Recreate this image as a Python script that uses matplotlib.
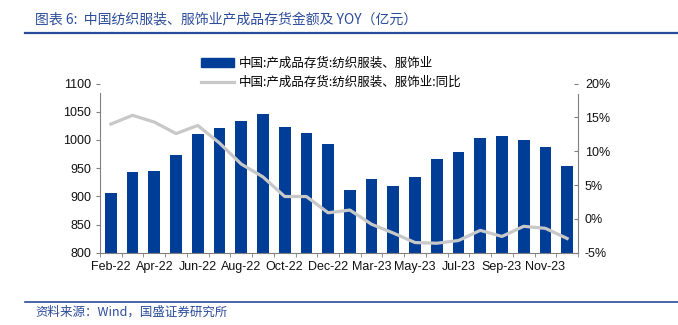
"""
中国纺织服装、服饰业产成品存货金额及 YOY
"""
import numpy as np
import matplotlib
matplotlib.use('Agg')
import matplotlib.pyplot as plt
from matplotlib.patches import Patch
from matplotlib.lines import Line2D
from matplotlib.ticker import FixedLocator

plt.rcParams['font.family'] = ['Liberation Sans', 'Noto Sans CJK SC']
plt.rcParams['axes.unicode_minus'] = False

CJK = ['Noto Sans CJK SC', 'DejaVu Sans']

# 数据
months = ['Feb-22', 'Mar-22', 'Apr-22', 'May-22', 'Jun-22', 'Jul-22', 'Aug-22',
          'Sep-22', 'Oct-22', 'Nov-22', 'Dec-22', 'Feb-23', 'Mar-23', 'Apr-23',
          'May-23', 'Jun-23', 'Jul-23', 'Aug-23', 'Sep-23', 'Oct-23', 'Nov-23',
          'Dec-23']
inventory = [906, 943, 945, 973, 1010, 1021, 1034, 1046, 1022, 1013, 993,
             912, 930, 919, 935, 966, 978, 1004, 1007, 999, 988, 953]
yoy = [14.0, 15.3, 14.3, 12.6, 13.8, 11.2, 8.1, 6.2, 3.3, 3.3, 0.9,
       1.3, -0.8, -2.1, -3.5, -3.6, -3.2, -1.7, -2.6, -1.1, -1.4, -2.9]

left_ticks = [800, 850, 900, 950, 1000, 1050, 1100]
right_ticks = [-5, 0, 5, 10, 15, 20]

bar_color = '#003d96'
line_color = '#c8c8c8'
title_color = '#2b4c9b'

fig = plt.figure(figsize=(6.78, 3.25), dpi=100)

# 标题和分隔线
fig.text(35 / 678, 1 - 19 / 325, '图表 6:  中国纺织服装、服饰业产成品存货金额及 YOY（亿元）',
         family=CJK, fontsize=10, color=title_color, va='center', ha='left')
fig.add_artist(Line2D([25 / 678, 1.0], [1 - 33 / 325] * 2, color=title_color, lw=1.6))
fig.add_artist(Line2D([25 / 678, 1.0], [1 - 302 / 325] * 2, color=title_color, lw=1.2))
fig.text(35 / 678, 1 - 312 / 325, '资料来源：Wind，国盛证券研究所',
         family=CJK, fontsize=9, color=title_color, va='center', ha='left')

ax = fig.add_axes([100 / 678, 1 - 252.7 / 325, 478 / 678, 169.2 / 325])
x = np.arange(len(months))
ax.bar(x, inventory, width=0.54, color=bar_color, zorder=2)
ax.set_xlim(-0.5, len(months) - 0.5)
ax.set_ylim(800, 1100)
ax.set_yticks(left_ticks)

# 每隔一个月显示标签
label_idx = list(range(0, len(months), 2))
ax.set_xticks(label_idx)
ax.set_xticklabels([months[i] for i in label_idx])
ax.tick_params(axis='x', length=0, labelsize=9, pad=6, labelcolor='#111111')
ax.xaxis.set_minor_locator(FixedLocator(np.arange(-0.5, len(months), 1)))
ax.tick_params(axis='x', which='minor', length=3, color='#808080', direction='out')
ax.tick_params(axis='y', labelsize=9, length=3, color='#808080', direction='out',
               labelcolor='#111111')

ax2 = ax.twinx()
ax2.plot(x, yoy, color=line_color, lw=2.3, zorder=3)
ax2.set_ylim(-5, 20)
ax2.set_yticks(right_ticks)
ax2.set_yticklabels([f'{v}%' for v in right_ticks])
ax2.tick_params(axis='y', labelsize=9, length=3, color='#808080', direction='in', pad=5,
                labelcolor='#111111')

for a in (ax, ax2):
    a.spines['top'].set_visible(False)
ax.spines['left'].set_color('#808080')
ax.spines['left'].set_bounds(800, 1083)
ax2.spines['right'].set_color('#808080')
ax2.spines['right'].set_bounds(-5, 18.5)
ax2.spines['left'].set_visible(False)
ax2.spines['bottom'].set_visible(False)
ax.spines['right'].set_visible(False)
ax.spines['bottom'].set_color('#808080')

handles = [Patch(color=bar_color), Line2D([], [], color=line_color, lw=2.3)]
labels = ['中国:产成品存货:纺织服装、服饰业', '中国:产成品存货:纺织服装、服饰业:同比']
fig.legend(handles, labels, loc='upper left', bbox_to_anchor=(196 / 678, 1 - 52 / 325),
           frameon=False, prop={'family': CJK, 'size': 9}, handlelength=2.6,
           handleheight=0.8, handletextpad=0.4, labelspacing=0.5, borderaxespad=0)

plt.savefig('out.png', dpi=100)
plt.close()
